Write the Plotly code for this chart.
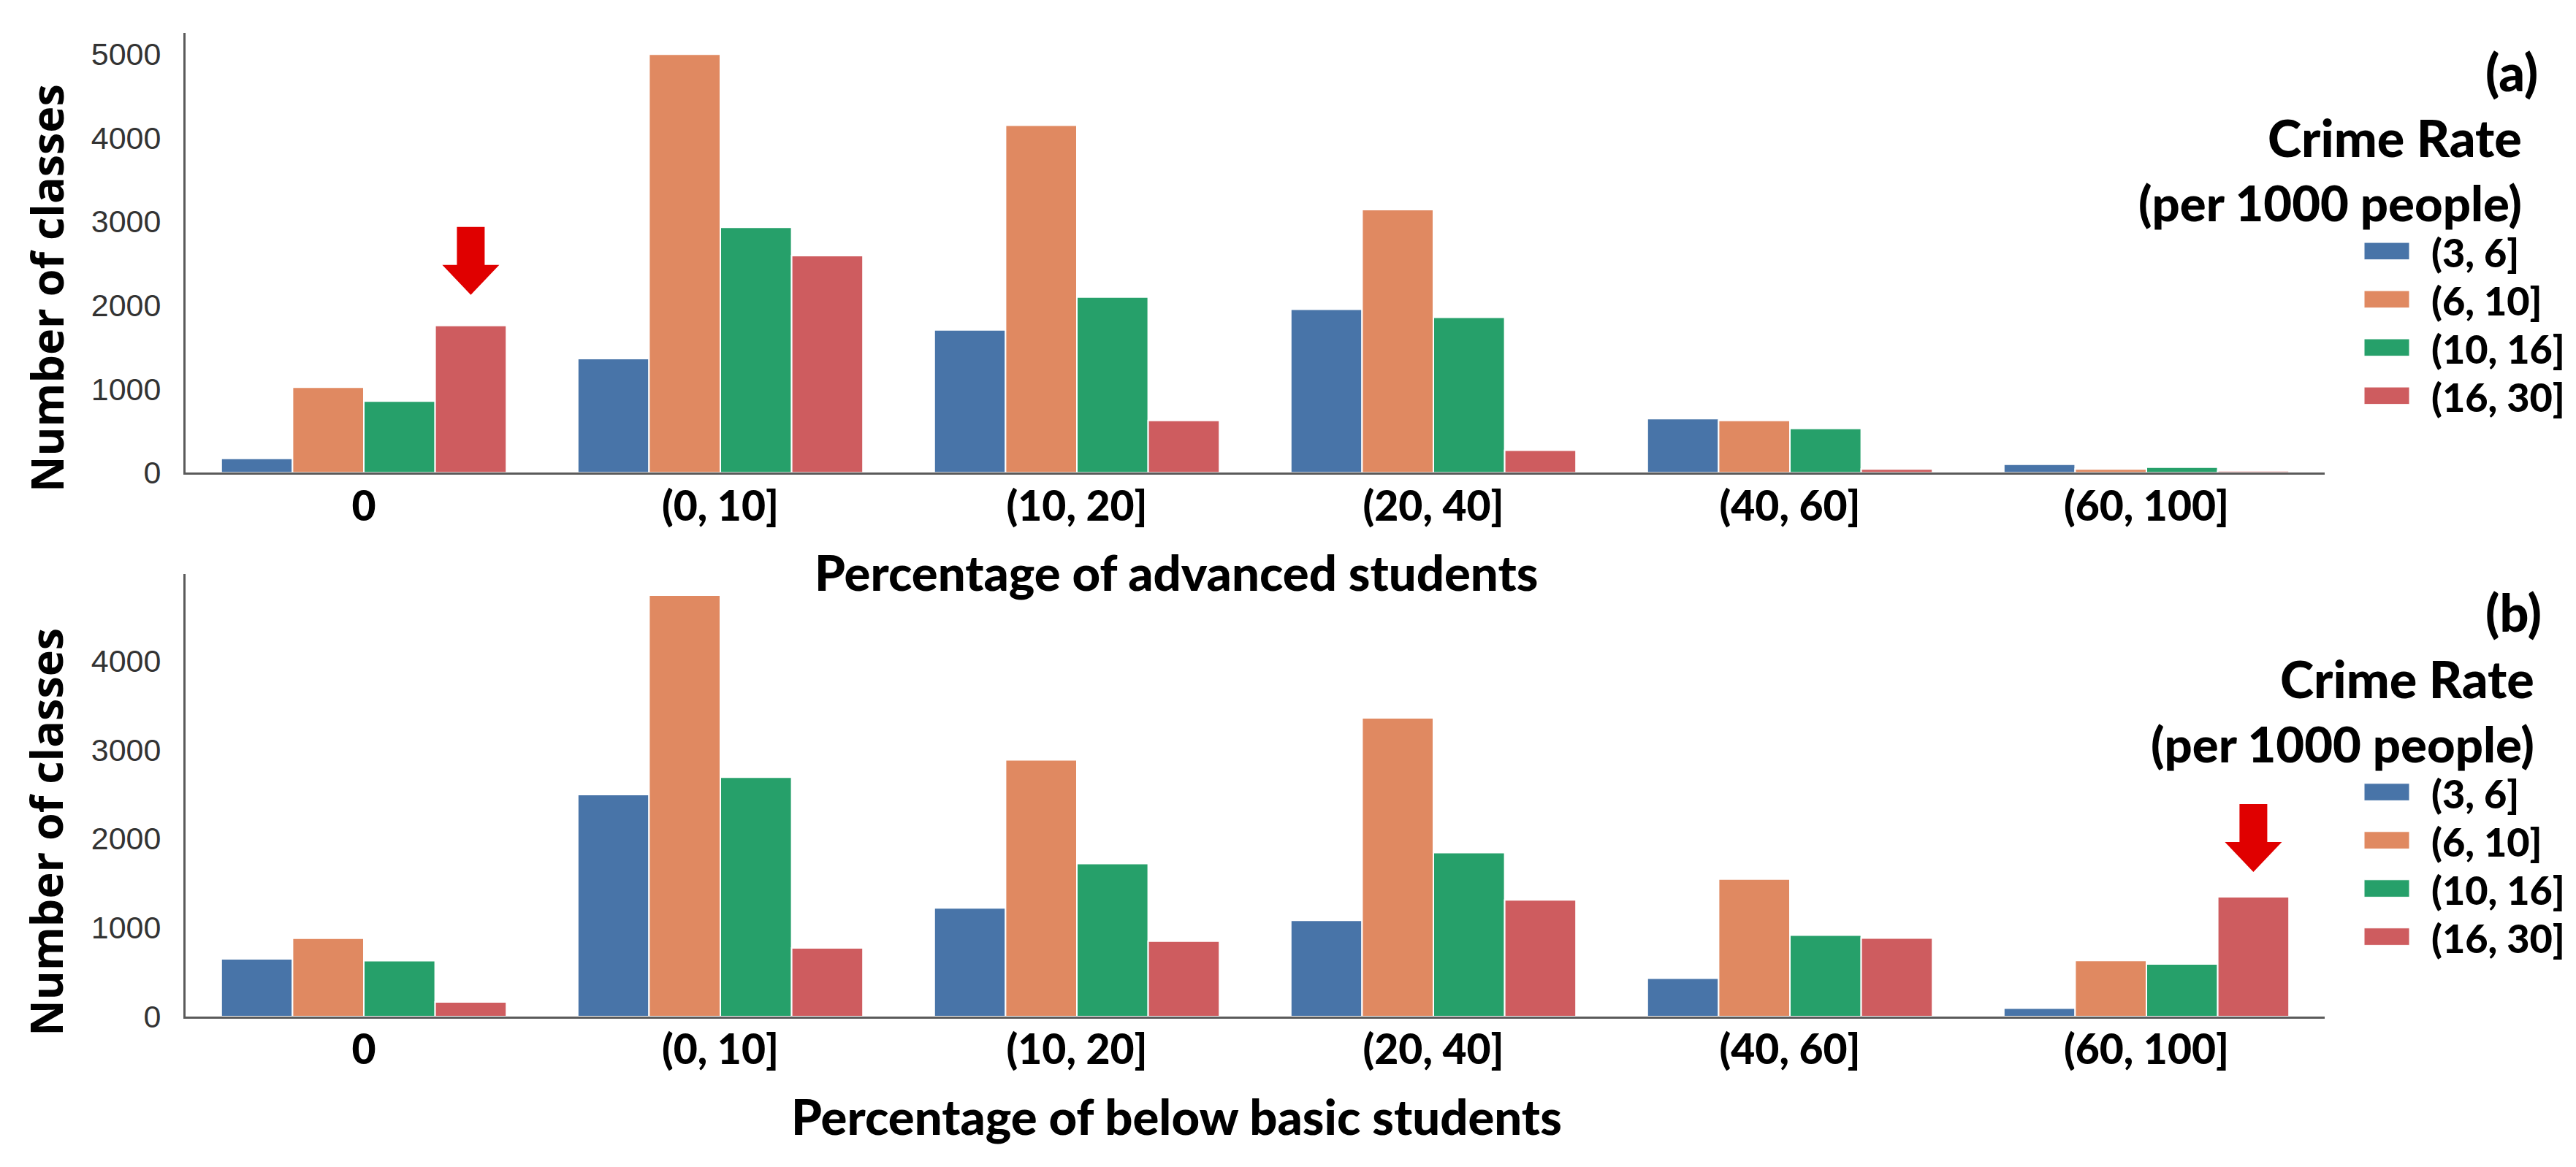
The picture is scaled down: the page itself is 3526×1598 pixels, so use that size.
import plotly.graph_objects as go

W, H = 3526, 1598

# ---------------- data ----------------
categories = ["0", "(0, 10]", "(10, 20]", "(20, 40]", "(40, 60]", "(60, 100]"]
crime_rates = ["(3, 6]", "(6, 10]", "(10, 16]", "(16, 30]"]

# (a) Percentage of advanced students
adv_3_6 = [171, 1363, 1705, 1952, 646, 101]
adv_6_10 = [1020, 4998, 4150, 3143, 624, 44]
adv_10_16 = [855, 2932, 2097, 1855, 527, 66]
adv_16_30 = [1758, 2593, 624, 268, 44, 22]

# (b) Percentage of below basic students
bb_3_6 = [647, 2494, 1221, 1081, 430, 94]
bb_6_10 = [880, 4736, 2885, 3357, 1545, 630]
bb_10_16 = [627, 2689, 1719, 1843, 915, 591]
bb_16_30 = [164, 770, 847, 1311, 881, 1345]

y_ticks_a = [0, 1000, 2000, 3000, 4000, 5000]
y_ticks_b = [0, 1000, 2000, 3000, 4000]

# ---------------- styles ----------------
colors = ["#4874A8", "#E08961", "#26A06A", "#CE5C5F"]
ARROW_COLOR = "#E00000"
AXIS_COLOR = "#5a5a5a"
BOLD_FONT = "Lato, Carlito, Calibri, sans-serif"
BOLD_WEIGHT = 900
TICK_FONT = "Liberation Sans, Arial, sans-serif"
YTITLE_FONT = "Open Sans, Noto Sans, sans-serif"


def px_x(x):
    return x / W


def px_y(y):
    return 1 - y / H


X_LEFT, X_RIGHT = 246, 3174
panels = [
    dict(top=38, bottom=649, ymax=5250, ticks=y_ticks_a, xa="x", ya="y",
         series=[adv_3_6, adv_6_10, adv_10_16, adv_16_30],
         xtitle="Percentage of advanced students", tag="(a)",
         arrow_cat=0, arrow_gap=42, tag_right=3468, title_right=3446),
    dict(top=790, bottom=1405, ymax=4973, ticks=y_ticks_b, xa="x2", ya="y2",
         series=[bb_3_6, bb_6_10, bb_10_16, bb_16_30],
         xtitle="Percentage of below basic students", tag="(b)",
         arrow_cat=5, arrow_gap=34, tag_right=3473, title_right=3463),
]

fig = go.Figure()
annotations = []
shapes = []

for p_i, p in enumerate(panels):
    for s_i, vals in enumerate(p["series"]):
        fig.add_trace(go.Bar(
            x=categories, y=vals, name=crime_rates[s_i],
            marker=dict(color=colors[s_i], line=dict(color="white", width=2)),
            xaxis=p["xa"], yaxis=p["ya"], showlegend=False,
            offsetgroup=str(s_i),
        ))

    # red arrow above the highlighted (16, 30] bar
    gap = p["arrow_gap"]
    head_h, shaft_h, head_hw, shaft_hw = 41, 52, 39, 19
    y_tip = gap
    y_head = gap + head_h
    y_top = gap + head_h + shaft_h
    path = (f"M0,{y_tip} L{-head_hw},{y_head} L{-shaft_hw},{y_head} "
            f"L{-shaft_hw},{y_top} L{shaft_hw},{y_top} L{shaft_hw},{y_head} "
            f"L{head_hw},{y_head} Z")
    shapes.append(dict(
        type="path", path=path, xref=p["xa"], yref=p["ya"],
        xsizemode="pixel", ysizemode="pixel",
        xanchor=p["arrow_cat"] + 0.3, yanchor=p["series"][3][p["arrow_cat"]],
        fillcolor=ARROW_COLOR, line=dict(width=0),
    ))

    # y title
    annotations.append(dict(
        text="Number of classes", xref="paper", yref="paper",
        x=px_x(55), y=px_y(p["bottom"] - 256), textangle=-90,
        showarrow=False, xanchor="center", yanchor="middle",
        font=dict(family=YTITLE_FONT, size=61, color="black", weight="bold"),
    ))
    # x title
    annotations.append(dict(
        text=p["xtitle"], xref="paper", yref="paper",
        x=px_x(1602), y=px_y(p["bottom"] + 138),
        showarrow=False, xanchor="center", yanchor="middle",
        font=dict(family=BOLD_FONT, size=67, color="black", weight=BOLD_WEIGHT),
    ))
    # panel tag
    annotations.append(dict(
        text=p["tag"], xref="paper", yref="paper",
        x=px_x(p["tag_right"]), y=px_y(p["top"] + 53),
        showarrow=False, xanchor="right", yanchor="middle",
        font=dict(family=BOLD_FONT, size=70, color="black", weight=BOLD_WEIGHT),
    ))
    # legend title
    for txt, dy, fs in [("Crime Rate", 145, 70), ("(per 1000 people)", 235, 67)]:
        annotations.append(dict(
            text=txt, xref="paper", yref="paper",
            x=px_x(p["title_right"]), y=px_y(p["top"] + dy),
            showarrow=False, xanchor="right", yanchor="middle",
            font=dict(family=BOLD_FONT, size=fs, color="black", weight=BOLD_WEIGHT),
        ))
    # legend items
    for s_i, name in enumerate(crime_rates):
        yc = p["top"] + 303 + 67 * s_i
        shapes.append(dict(
            type="rect", xref="paper", yref="paper",
            x0=px_x(3228), x1=px_x(3290), y0=px_y(yc - 12), y1=px_y(yc + 12),
            fillcolor=colors[s_i], line=dict(color="white", width=1),
        ))
        annotations.append(dict(
            text=name, xref="paper", yref="paper",
            x=px_x(3318), y=px_y(yc + 2), showarrow=False,
            xanchor="left", yanchor="middle",
            font=dict(family=BOLD_FONT, size=54, color="black", weight=BOLD_WEIGHT),
        ))

axis_common_x = dict(
    domain=[px_x(X_LEFT), px_x(X_RIGHT)], type="category",
    categoryorder="array", categoryarray=categories, range=[-0.5, 5.5],
    showline=True, linecolor=AXIS_COLOR, linewidth=3, ticks="", ticklen=0,
    showgrid=False, zeroline=False, ticklabelstandoff=-6,
    tickfont=dict(family=BOLD_FONT, size=57, color="black", weight=BOLD_WEIGHT),
)

layout_axes = {}
for p_i, p in enumerate(panels):
    xk = "xaxis" if p_i == 0 else "xaxis2"
    yk = "yaxis" if p_i == 0 else "yaxis2"
    layout_axes[xk] = dict(axis_common_x, anchor=p["ya"])
    layout_axes[yk] = dict(
        domain=[px_y(p["bottom"]), px_y(p["top"])], anchor=p["xa"],
        range=[0, p["ymax"]], tickvals=p["ticks"],
        showline=True, linecolor=AXIS_COLOR, linewidth=3, ticks="", ticklen=0,
        showgrid=False, zeroline=False, ticklabelstandoff=22,
        tickfont=dict(family=TICK_FONT, size=43, color="#333333"),
    )

fig.update_layout(
    width=W, height=H,
    margin=dict(l=0, r=0, t=0, b=0),
    paper_bgcolor="white", plot_bgcolor="white",
    barmode="group", bargap=0.2, bargroupgap=0,
    showlegend=False,
    annotations=annotations, shapes=shapes,
    **layout_axes,
)

fig.write_html("out.html")
